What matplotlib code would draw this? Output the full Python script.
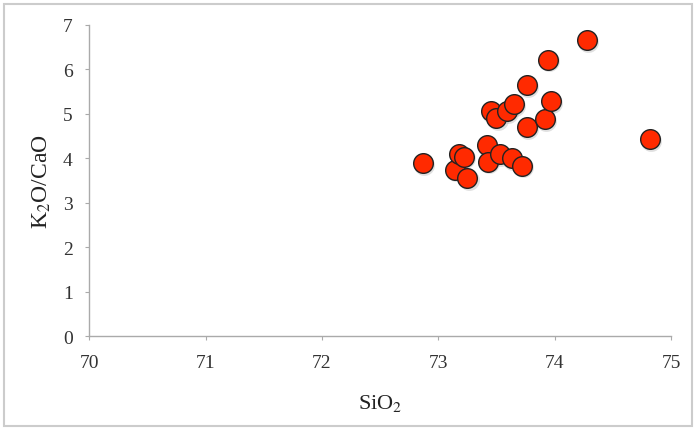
import matplotlib
matplotlib.use("Agg")
import matplotlib.pyplot as plt
from matplotlib.patches import Rectangle

# SiO2 vs K2O/CaO
sio2 = [72.87, 73.14, 73.18, 73.22, 73.25, 73.42, 73.43, 73.53, 73.63, 73.72,
        73.45, 73.50, 73.59, 73.65, 73.76, 73.76, 73.92, 73.97, 73.94, 74.28, 74.82]
k2o_cao = [3.90, 3.75, 4.10, 4.04, 3.55, 4.30, 3.93, 4.10, 4.00, 3.84,
           5.07, 4.90, 5.07, 5.22, 5.64, 4.70, 4.89, 5.28, 6.22, 6.66, 4.44]

xticks = [70, 71, 72, 73, 74, 75]
yticks = [0, 1, 2, 3, 4, 5, 6, 7]

plt.rcParams['font.family'] = ['Liberation Serif', 'DejaVu Serif']
plt.rcParams['mathtext.fontset'] = 'stix'

fig = plt.figure(figsize=(6.96, 4.31), dpi=100)
ax = fig.add_axes([0.1283, 0.2174, 0.8357, 0.7223])

# soft shadow then the markers
ax.scatter([x + 0.01 for x in sio2], [y - 0.04 for y in k2o_cao], s=225,
           color='#999999', alpha=0.3, linewidths=0, zorder=2)
ax.scatter(sio2, k2o_cao, s=200, color='#ff2a00', edgecolors='#222222',
           linewidths=1.0, zorder=3)

ax.set_xlim(70, 75)
ax.set_ylim(0, 7)
ax.set_xticks(xticks)
ax.set_yticks(yticks)
for s in ['top', 'right']:
    ax.spines[s].set_visible(False)
for s in ['left', 'bottom']:
    ax.spines[s].set_color('#aaaaaa')
    ax.spines[s].set_linewidth(1.0)
ax.tick_params(direction='out', length=3, color='#aaaaaa', labelsize=14,
               labelcolor='#333333')
ax.tick_params(axis='x', pad=10)
ax.tick_params(axis='y', pad=9)

ax.set_xlabel(r'SiO$_2$', fontsize=16, color='#222222', labelpad=15)
ax.set_ylabel(r'K$_2$O/CaO', fontsize=17, color='#222222', labelpad=7)

# thin frame around the whole picture
fig.patches.append(Rectangle((0.006, 0.01), 0.988, 0.978, transform=fig.transFigure,
                             fill=False, edgecolor='#cccccc', linewidth=1.5))

fig.savefig("out.png", dpi=100)
